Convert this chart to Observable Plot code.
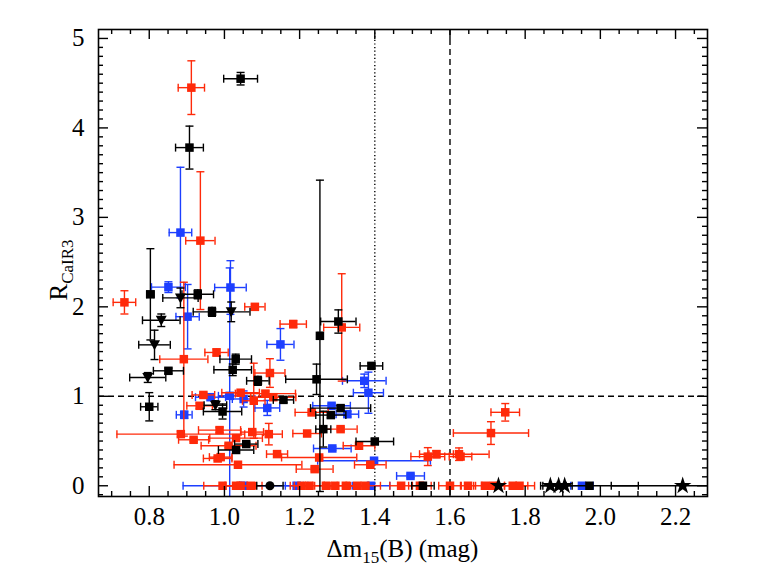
<!DOCTYPE html>
<html><head><meta charset="utf-8">
<script src="https://cdn.jsdelivr.net/npm/d3@7"></script>
<script src="https://cdn.jsdelivr.net/npm/@observablehq/plot@0.6"></script>
<style>body{margin:0;background:#fff}#chart{width:761px;height:588px}</style>
</head><body><div id="chart"></div>
<script>
// ---- Red squares ----
const redX  = [0.912,0.936,0.734,1.081,0.892,1.183,1.312,0.979,1.121,0.934,0.944,1.043,1.078,1.109,1.130,1.232,0.987,1.074,0.884,0.918,1.031,1.011,1.118,0.982,0.990,1.036,1.140,1.220,1.309,1.252,1.240,1.358,1.388,1.747,1.709,1.564,1.541,1.624,1.628,
               0.995,1.031,1.043,1.070,1.205,1.226,1.270,1.295,1.323,1.353,1.375,1.470,1.520,1.600,1.648,1.693,1.715,1.767,1.785];
const redY  = [4.45,2.74,2.05,2.00,1.415,1.807,1.77,1.49,1.26,0.894,1.015,1.04,0.95,1.03,0.99,0.82,0.622,0.60,0.577,0.514,0.533,0.447,0.577,0.305,0.32,0.235,0.354,0.584,0.633,0.316,0.186,0.447,0.235,0.821,0.589,0.353,0.326,0.353,0.326,
               0,0,0,0,0,0,0,0,0,0,0,0,0,0,0,0,0,0,0];
const redEx = [0.035,0.039,0.030,0.027,0.064,0.035,0.048,0.031,0.040,0.034,0.030,0.050,0.030,0.080,0.060,0.044,0.056,0.030,0.170,0.040,0.070,0.073,0.036,0.038,0.030,0.170,0.028,0.038,0.044,0.100,0.049,0.042,0.042,0.038,0.100,0.045,0.045,0.080,0.030,
               0.050,0.030,0.040,0.030,0.030,0.040,0.030,0.030,0.040,0.030,0.040,0.030,0.030,0.030,0.020,0.030,0.030,0.040,0.040];
const redEy = [0.30,0.77,0.13,0.03,0.86,0.04,0.60,0.04,0.16,0.03,0.02,0.02,0.42,0.03,0.02,0.02,0.03,0.02,0.03,0.02,0.02,0.02,0.12,0.02,0.02,0.02,0.02,0.02,0.02,0.02,0.02,0.02,0.02,0.098,0.127,0.04,0.10,0.07,0.03,
               0,0,0,0,0,0,0,0,0,0,0,0,0,0,0,0,0,0,0];
// ---- Blue squares ----
const blueX  = [0.883,0.851,0.902,1.016,1.014,1.149,0.893,1.051,1.114,1.285,1.327,1.287,1.372,1.383,1.398,1.495,0.963,1.050,1.192,1.390,1.951];
const blueY  = [2.83,2.22,1.89,2.216,1.005,1.58,0.793,0.97,0.87,0.894,0.80,0.417,1.173,1.04,0.28,0.11,0.99,0,0,0,0];
const blueEx = [0.030,0.045,0.031,0.042,0.030,0.036,0.021,0.030,0.033,0.050,0.030,0.050,0.058,0.040,0.150,0.037,0.040,0.160,0.030,0.050,0.030];
const blueEy = [0.73,0.06,0.36,0.30,1.43,0.177,0.04,0.09,0.084,0.02,0.03,0.02,0.075,0.23,0.02,0.02,0.02,0,0,0,0];
// ---- Black squares ----
const blkX  = [1.043,0.907,0.803,0.929,0.967,1.254,1.303,1.245,1.030,0.851,1.022,1.089,0.800,0.995,1.157,1.391,1.309,1.283,1.263,1.058,1.031,1.400,1.528,1.971];
const blkY  = [4.55,3.78,2.14,2.14,1.944,1.676,1.836,1.19,1.415,1.285,1.296,1.173,0.883,0.83,0.96,1.34,0.868,0.79,0.633,0.466,0.40,0.495,0,0];
const blkEx = [0.045,0.037,0.010,0.042,0.050,0.005,0.047,0.082,0.042,0.040,0.050,0.030,0.023,0.051,0.027,0.030,0.080,0.040,0.020,0.031,0.047,0.050,0.030,0.130];
const blkEy = [0.07,0.24,0.51,0.05,0.05,1.74,0.13,0.17,0.056,0.03,0.065,0.05,0.158,0.084,0.03,0.03,0.03,0.03,0.20,0.02,0.02,0.03,0,0];
// ---- Black down-triangles ----
const triX  = [0.883,1.018,0.832,0.814,0.796,0.976];
const triY  = [2.10,1.944,1.85,1.575,1.21,0.90];
const triEx = [0.047,0.050,0.050,0.042,0.048,0.030];
const triEy = [0.11,0.11,0.07,0.164,0.055,0.05];
// ---- Black stars ----
const starX  = [1.729,1.867,1.889,1.905,2.219];
const starY  = [0,0,0,0,0];
const starEx = [0,0.02,0.02,0.02,0.19];
const starEy = [0,0,0,0,0];
// ---- Black circle ----
const circX  = [1.121];
const circY  = [0];
const circEx = [0.035];
const circEy = [0];
// ---- Reference lines & ticks ----
const refY = [1];
const refXDashed = [1.6];
const refXDotted = [1.4];
const xMajor = [0.8,1.0,1.2,1.4,1.6,1.8,2.0,2.2];
const xMinor = [0.7,0.75,0.85,0.9,0.95,1.05,1.1,1.15,1.25,1.3,1.35,1.45,1.5,1.55,1.65,1.7,1.75,1.85,1.9,1.95,2.05,2.1,2.15,2.25];
const yMajor = [0,1,2,3,4,5];
const yMinor = d3.range(-1, 51).map(i => i / 10).filter(v => Math.abs(v - Math.round(v)) > 1e-9);

const RED = "#ff2a0a", BLUE = "#1d3fff", BLACK = "#000000";
const W = 761, H = 588, mL = 98, mR = 54, mT = 29, mB = 92;
const FH = H - mT - mB, FW = W - mL - mR;
const FONT = "'Liberation Serif', 'Times New Roman', serif";

function rows(xs, ys, exs, eys) { return xs.map((x, i) => ({x, y: ys[i], ex: exs[i], ey: eys[i]})); }
const triDown = {draw(c){ c.moveTo(-5.5,-4.5); c.lineTo(5.5,-4.5); c.lineTo(0,5.5); c.closePath(); }};
const vcap = {draw(c){ c.moveTo(0,-4); c.lineTo(0,4); }};
const hcap = {draw(c){ c.moveTo(-4,0); c.lineTo(4,0); }};

function group(data, color, symbol, r) {
  const ex = data.filter(d => d.ex > 0), ey = data.filter(d => d.ey > 0);
  const sw = 1.4;
  return [
    Plot.ruleY(ex, {y: "y", x1: d => d.x - d.ex, x2: d => d.x + d.ex, stroke: color, strokeWidth: sw, clip: true}),
    Plot.ruleX(ey, {x: "x", y1: d => d.y - d.ey, y2: d => d.y + d.ey, stroke: color, strokeWidth: sw, clip: true}),
    Plot.dot(ex, {x: d => d.x - d.ex, y: "y", symbol: vcap, fill: "none", stroke: color, strokeWidth: sw, clip: true}),
    Plot.dot(ex, {x: d => d.x + d.ex, y: "y", symbol: vcap, fill: "none", stroke: color, strokeWidth: sw, clip: true}),
    Plot.dot(ey, {x: "x", y: d => d.y - d.ey, symbol: hcap, fill: "none", stroke: color, strokeWidth: sw, clip: true}),
    Plot.dot(ey, {x: "x", y: d => d.y + d.ey, symbol: hcap, fill: "none", stroke: color, strokeWidth: sw, clip: true}),
    Plot.dot(data, {x: "x", y: "y", symbol, r, fill: color, stroke: "none"})
  ];
}

const svg = Plot.plot({
  width: W, height: H,
  marginLeft: mL, marginRight: mR, marginTop: mT, marginBottom: mB,
  style: {fontFamily: FONT, fontSize: "25px", color: "black", background: "white"},
  x: {domain: [0.665, 2.285]},
  y: {domain: [-0.12, 5.1]},
  marks: [
    Plot.ruleY(refY, {y: d => d, stroke: BLACK, strokeWidth: 1.4, strokeDasharray: "6,4"}),
    Plot.ruleX(refXDashed, {x: d => d, stroke: BLACK, strokeWidth: 1.4, strokeDasharray: "6,4"}),
    Plot.ruleX(refXDotted, {x: d => d, stroke: BLACK, strokeWidth: 1.4, strokeDasharray: "1.2,2.4"}),
    ...group(rows(blueX, blueY, blueEx, blueEy), BLUE, "square", 4.8),
    ...group(rows(redX, redY, redEx, redEy), RED, "square", 4.8),
    ...group(rows(blkX, blkY, blkEx, blkEy), BLACK, "square", 4.8),
    ...group(rows(triX, triY, triEx, triEy), BLACK, triDown, 5),
    ...group(rows(starX, starY, starEx, starEy), BLACK, "star", 5.5),
    ...group(rows(circX, circY, circEx, circEy), BLACK, "circle", 4.5),
    // inward ticks on all four sides
    Plot.ruleX(xMajor, {x: d => d, insetTop: FH - 10, stroke: BLACK, strokeWidth: 1.4}),
    Plot.ruleX(xMajor, {x: d => d, insetBottom: FH - 10, stroke: BLACK, strokeWidth: 1.4}),
    Plot.ruleX(xMinor, {x: d => d, insetTop: FH - 5, stroke: BLACK, strokeWidth: 1.4}),
    Plot.ruleX(xMinor, {x: d => d, insetBottom: FH - 5, stroke: BLACK, strokeWidth: 1.4}),
    Plot.ruleY(yMajor, {y: d => d, insetRight: FW - 10, stroke: BLACK, strokeWidth: 1.4}),
    Plot.ruleY(yMajor, {y: d => d, insetLeft: FW - 10, stroke: BLACK, strokeWidth: 1.4}),
    Plot.ruleY(yMinor, {y: d => d, insetRight: FW - 5, stroke: BLACK, strokeWidth: 1.4}),
    Plot.ruleY(yMinor, {y: d => d, insetLeft: FW - 5, stroke: BLACK, strokeWidth: 1.4}),
    Plot.axisX(xMajor, {tickSize: 0, tickPadding: 11, tickFormat: d3.format(".1f"), label: null, fontSize: 25, fontFamily: FONT}),
    Plot.axisY(yMajor, {tickSize: 0, tickPadding: 14, tickFormat: d3.format("d"), label: null, fontSize: 25, fontFamily: FONT}),
    Plot.frame({stroke: BLACK, strokeWidth: 1.6})
  ]
});

const s = d3.select(svg);
const xt = s.append("text").attr("x", mL + FW / 2).attr("y", 557).attr("text-anchor", "middle")
  .attr("font-size", 25).attr("font-family", FONT).attr("fill", "black");
xt.append("tspan").text("Δm");
xt.append("tspan").attr("font-size", 17).attr("dy", 6).text("15");
xt.append("tspan").attr("dy", -6).text("(B) (mag)");
const yt = s.append("text").attr("transform", "translate(67,270) rotate(-90)").attr("text-anchor", "middle")
  .attr("font-size", 25).attr("font-family", FONT).attr("fill", "black");
yt.append("tspan").text("R");
yt.append("tspan").attr("font-size", 17).attr("dy", 6).text("CaIR3");

document.getElementById("chart").appendChild(svg);
</script></body></html>
